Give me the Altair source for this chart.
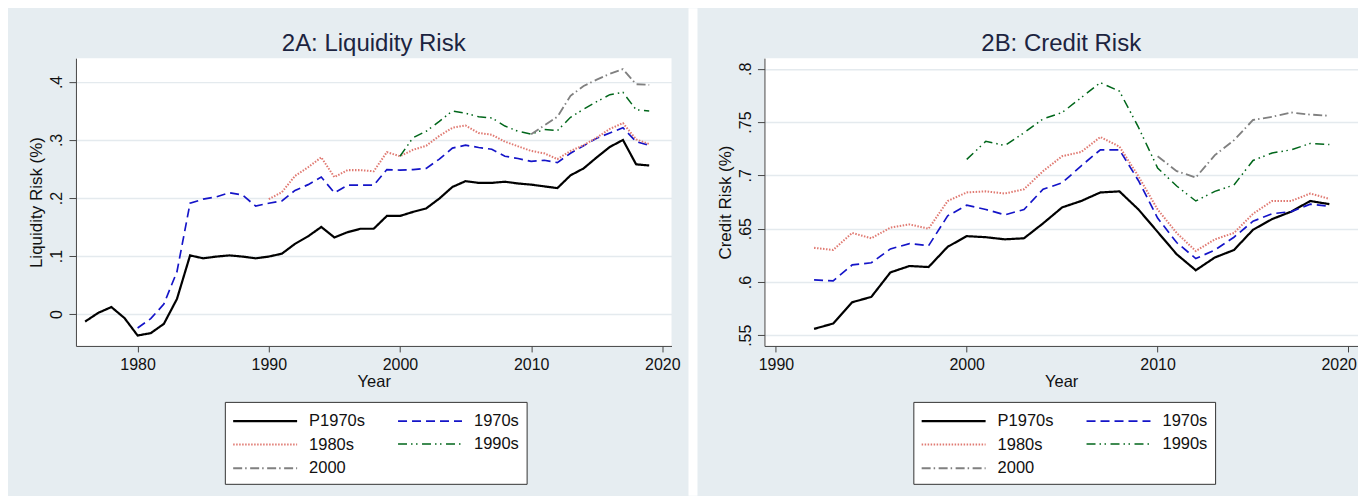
import altair as alt
import pandas as pd

# ---------------- data ----------------
cohorts = ["P1970s", "1970s", "1980s", "1990s", "2000"]
colors = ["#000000", "#1414c8", "#e07a72", "#00661a", "#808080"]
dashes = [[1, 0], [9, 5], [1.5, 1.5], [9, 4, 1.5, 3.5, 1.5, 4.5], [9, 3, 1.5, 3.5]]
widths = [2.2, 2.5, 1.5, 2.5, 2.5]
# legend fills column by column: this order gives rows (P1970s, 1970s), (1980s, 1990s), (2000)
legend_order = ["P1970s", "1980s", "2000", "1970s", "1990s"]

# Panel A: Liquidity Risk (start years of each series)
liq_start = {"P1970s": 1976, "1970s": 1980, "1980s": 1990, "1990s": 2000, "2000": 2010}
liq_p1970s = [-0.013, 0.002, 0.012, -0.007, -0.037, -0.033, -0.017, 0.026, 0.101, 0.096,
              0.099, 0.101, 0.099, 0.096, 0.099, 0.104, 0.121, 0.134, 0.150, 0.132,
              0.141, 0.147, 0.147, 0.169, 0.169, 0.176, 0.182, 0.199, 0.219, 0.229,
              0.226, 0.226, 0.228, 0.225, 0.223, 0.220, 0.217, 0.239, 0.251, 0.270,
              0.288, 0.300, 0.258, 0.256]
liq_1970s = [-0.024, -0.008, 0.017, 0.073, 0.191, 0.198, 0.202, 0.209, 0.205, 0.186,
             0.191, 0.195, 0.213, 0.223, 0.236, 0.209, 0.222, 0.222, 0.222, 0.249,
             0.248, 0.249, 0.251, 0.267, 0.286, 0.291, 0.287, 0.284, 0.272, 0.268,
             0.263, 0.265, 0.261, 0.277, 0.290, 0.303, 0.312, 0.321, 0.297, 0.291]
liq_1980s = [0.198, 0.210, 0.238, 0.253, 0.270, 0.236, 0.248, 0.248, 0.246, 0.279,
             0.272, 0.283, 0.290, 0.307, 0.321, 0.325, 0.312, 0.309, 0.297, 0.289,
             0.281, 0.277, 0.267, 0.281, 0.291, 0.304, 0.319, 0.329, 0.301, 0.293]
liq_1990s = [0.272, 0.304, 0.315, 0.332, 0.350, 0.346, 0.340, 0.338, 0.324, 0.315,
             0.310, 0.318, 0.316, 0.339, 0.353, 0.366, 0.378, 0.382, 0.352, 0.350]
liq_2000 = [0.310, 0.325, 0.340, 0.376, 0.393, 0.404, 0.414, 0.422, 0.396, 0.395]

# Panel B: Credit Risk
cr_start = {"P1970s": 1992, "1970s": 1992, "1980s": 1992, "1990s": 2000, "2000": 2010}
cr_p1970s = [0.556, 0.561, 0.581, 0.586, 0.609, 0.615, 0.614, 0.633, 0.643, 0.642,
             0.640, 0.641, 0.655, 0.670, 0.676, 0.684, 0.685, 0.668, 0.647, 0.626,
             0.611, 0.623, 0.630, 0.649, 0.659, 0.666, 0.676, 0.673]
cr_1970s = [0.602, 0.601, 0.616, 0.618, 0.631, 0.636, 0.634, 0.662, 0.672, 0.668,
            0.663, 0.668, 0.687, 0.693, 0.709, 0.724, 0.724, 0.695, 0.660, 0.637,
            0.622, 0.630, 0.642, 0.657, 0.664, 0.666, 0.673, 0.671]
cr_1980s = [0.632, 0.630, 0.646, 0.641, 0.651, 0.654, 0.650, 0.676, 0.684, 0.685,
            0.683, 0.687, 0.704, 0.718, 0.722, 0.736, 0.727, 0.699, 0.668, 0.646,
            0.629, 0.640, 0.646, 0.664, 0.676, 0.676, 0.683, 0.678]
cr_1990s = [0.715, 0.732, 0.728, 0.740, 0.753, 0.759, 0.773, 0.787, 0.779, 0.745,
            0.707, 0.690, 0.676, 0.685, 0.691, 0.714, 0.721, 0.724, 0.730, 0.729]
cr_2000 = [0.718, 0.704, 0.698, 0.719, 0.733, 0.752, 0.755, 0.759, 0.757, 0.756]

liq_ticks_x = [1980, 1990, 2000, 2010, 2020]
liq_ticks_y = [0, 0.1, 0.2, 0.3, 0.4]
cr_ticks_x = [1990, 2000, 2010, 2020]
cr_ticks_y = [0.55, 0.6, 0.65, 0.7, 0.75, 0.8]


def build_df(start, series):
    rows = []
    for name, vals in zip(cohorts, series):
        for i, v in enumerate(vals):
            rows.append({"cohort": name, "year": start[name] + i, "value": v})
    return pd.DataFrame(rows)


liq_df = build_df(liq_start, [liq_p1970s, liq_1970s, liq_1980s, liq_1990s, liq_2000])
cr_df = build_df(cr_start, [cr_p1970s, cr_1970s, cr_1980s, cr_1990s, cr_2000])

idx = [cohorts.index(c) for c in legend_order]
dom = legend_order
rng_color = [colors[i] for i in idx]
rng_dash = [dashes[i] for i in idx]
rng_width = [widths[i] for i in idx]

FONT = "Liberation Sans"
TXT = "#111111"
AX = "#444444"
BG = "#e6edf1"
W_L, W_R, H = 596, 594, 288
SYM = 64.0  # legend line sample length


def legend():
    return alt.Legend(
        title=None, orient="none", legendX=149, legendY=344, columns=2,
        fillColor="white", strokeColor="#333333", padding=7,
        labelFont=FONT, labelFontSize=16.5, labelColor=TXT, labelLimit=300,
        symbolType="M-3,0H3", symbolSize=(SYM / 3) ** 2,
        symbolOffset=SYM / 3, labelOffset=32,
        columnPadding=28, rowPadding=2.7,
    )


def panel(df, title, ytitle, xdom, ydom, xt, yt, width, gap=False):
    frame = alt.Chart(pd.DataFrame({"k": [0]})).mark_rect(opacity=0).encode(
        x=alt.value(-67.7), x2=alt.value(width + (16.4 if not gap else 0)),
        y=alt.value(-50), y2=alt.value(H + 150),
    )
    layers = [frame]
    if gap:
        layers.append(
            alt.Chart(pd.DataFrame({"k": [0]})).mark_rect(color="white").encode(
                x=alt.value(-76), x2=alt.value(-67),
                y=alt.value(-50), y2=alt.value(H + 150),
            )
        )
    flush = {"labelFlush": 10, "labelFlushOffset": 8} if gap else {"labelFlush": False}
    lines = alt.Chart(df).mark_line().encode(
        x=alt.X("year:Q",
                scale=alt.Scale(domain=xdom, nice=False, zero=False),
                axis=alt.Axis(values=xt, format="d", title="Year", grid=False,
                              labelFontSize=16, titleFontSize=16.5, labelFont=FONT,
                              titleFont=FONT, titleFontWeight="normal",
                              labelColor=TXT, titleColor=TXT, domainColor=AX,
                              tickColor=AX, tickSize=6, labelPadding=5,
                              titlePadding=1, **flush)),
        y=alt.Y("value:Q",
                scale=alt.Scale(domain=ydom, nice=False, zero=False),
                axis=alt.Axis(values=yt, title=ytitle, grid=True,
                              gridColor="#e4eaee", gridWidth=1.5,
                              labelExpr="replace(format(datum.value, '.2~f'), '0.', '.')",
                              labelAngle=270, labelAlign="center",
                              labelBaseline="alphabetic", labelPadding=7,
                              labelFontSize=16, titleFontSize=17, labelFont=FONT,
                              titleFont=FONT, titleFontWeight="normal",
                              labelColor=TXT, titleColor=TXT, domainColor=AX,
                              tickColor=AX, tickSize=7, titlePadding=3)),
        color=alt.Color("cohort:N", scale=alt.Scale(domain=dom, range=rng_color),
                        legend=legend()),
        strokeDash=alt.StrokeDash("cohort:N", scale=alt.Scale(domain=dom, range=rng_dash),
                                  legend=legend()),
        strokeWidth=alt.StrokeWidth("cohort:N", scale=alt.Scale(domain=dom, range=rng_width),
                                    legend=legend()),
    )
    layers.append(lines)
    return alt.layer(*layers).properties(
        width=width, height=H,
        title=alt.Title(title, fontSize=24, font=FONT, fontWeight="normal",
                        color="#1c2440", anchor="middle", offset=0,
                        baseline="alphabetic", dy=67),
    )


left = panel(liq_df, "2A: Liquidity Risk", "Liquidity Risk (%)",
             [1975.3, 2020.7], [-0.055, 0.441], liq_ticks_x, liq_ticks_y, W_L)
right = panel(cr_df, "2B: Credit Risk", "Credit Risk (%)",
              [1989.4, 2020.5], [0.540, 0.810], cr_ticks_x, cr_ticks_y, W_R, gap=True)

chart = alt.hconcat(left, right, spacing=0).resolve_scale(
    x="independent", y="independent", color="independent",
    strokeDash="independent", strokeWidth="independent",
).resolve_legend(
    color="independent", strokeDash="independent", strokeWidth="independent",
).properties(
    background=BG, padding={"left": 0, "top": 0, "right": 0, "bottom": 0},
).configure_view(fill="white", strokeWidth=0)

chart.save("out.html", embed_options={"renderer": "svg", "actions": False})
